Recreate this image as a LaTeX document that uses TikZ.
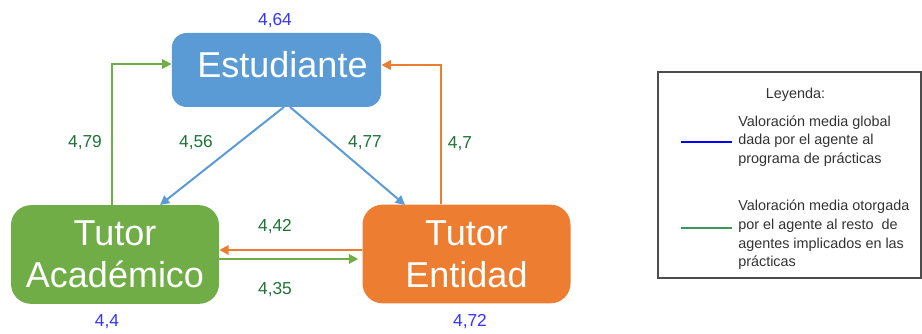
\documentclass[tikz,border=0pt]{standalone}
\usepackage{fontspec}
\setmainfont{Liberation Sans}
\usetikzlibrary{positioning,arrows.meta}

\definecolor{estblue}{RGB}{91,155,213}
\definecolor{acadgreen}{RGB}{112,173,71}
\definecolor{entorange}{RGB}{237,125,49}
\definecolor{globalblue}{RGB}{51,51,255}
\definecolor{restgreen}{RGB}{30,115,55}
\definecolor{legendgreen}{RGB}{60,150,90}
\definecolor{legendtext}{RGB}{50,50,50}

\begin{document}
\begin{tikzpicture}[x=0.75pt, y=-0.75pt,
    agentnode/.style={rectangle, rounded corners=15pt, text=white, minimum width=156pt, minimum height=74pt, align=center, inner sep=0pt, font=\fontsize{27}{31.5}\selectfont},
    valnode/.style={inner sep=0pt, text height=0.72em, text depth=0pt, font=\fontsize{13}{15}\selectfont},
    flow/.style={line width=1.5pt, -{Triangle[length=7pt,width=7pt]}},
    legendline/.style={line width=0.9pt}]

        \useasboundingbox (0,0) rectangle (922,334);

        % agentes
        \node[agentnode, fill=estblue, minimum width=157pt, minimum height=55.5pt, rounded corners=11pt, text depth=9pt] (est) at (276.5,70) {\hspace*{9pt}Estudiante};
        \node[agentnode, fill=acadgreen] (ta) at (115,254.5) {Tutor\\Académico};
        \node[agentnode, fill=entorange] (te) at (466.5,254) {Tutor\\Entidad};

        % puntos de giro
        \coordinate (gcorner) at (112,64);
        \coordinate (ocorner) at (441,65);
        \coordinate (estleft) at (284,107);
        \coordinate (estright) at (290,107);
        \coordinate (taup) at (160,205);
        \coordinate (teup) at (405,205);
        \coordinate (ohor) at (0,250);
        \coordinate (ghor) at (0,259);

        % valoraciones
        \draw[flow, acadgreen] (ta.north -| gcorner) |- (est.west |- gcorner);
        \draw[flow, entorange] (te.north -| ocorner) |- (est.east |- ocorner);
        \draw[flow, estblue] (estleft) -- (taup);
        \draw[flow, estblue] (estright) -- (teup);
        \draw[flow, entorange] (te.west |- ohor) -- (ta.east |- ohor);
        \draw[flow, acadgreen, shorten >=3pt] (ta.east |- ghor) -- (te.west |- ghor);

        \node[valnode, text=globalblue] (vest) at (275,21) {4,64};
        \node[valnode, text=globalblue] (vta) at (107,322) {4,4};
        \node[valnode, text=globalblue] (vte) at (470,322) {4,72};
        \node[valnode, text=restgreen] (vtaest) at (85,143) {4,79};
        \node[valnode, text=restgreen] (vestta) at (196,143) {4,56};
        \node[valnode, text=restgreen] (vestte) at (365,143) {4,77};
        \node[valnode, text=restgreen] (vteest) at (460,144) {4,7};
        \node[valnode, text=restgreen] (vteta) at (275,227) {4,42};
        \node[valnode, text=restgreen] (vtate) at (275,290) {4,35};

        % leyenda
        \draw[draw=black!70, line width=0.8pt] (658,72) rectangle (921,278);
        \node[font=\fontsize{10.8}{14}\selectfont, text=legendtext] (ley) at (795.5,95) {Leyenda:};
        \draw[legendline, blue] (681,142) -- (732,142);
        \node[anchor=west, align=left, inner sep=0pt, font=\fontsize{10.8}{14}\selectfont, text=legendtext] (leyglobal) at (738,141) {Valoración media global\\dada por el agente al\\programa de prácticas};
        \draw[legendline, legendgreen] (681,228) -- (732,228);
        \node[anchor=west, align=left, inner sep=0pt, font=\fontsize{10.8}{14}\selectfont, text=legendtext] (leyresto) at (738,235) {Valoración media otorgada\\por el agente al resto\ \ de\\agentes implicados en las\\prácticas};

\end{tikzpicture}
\end{document}
